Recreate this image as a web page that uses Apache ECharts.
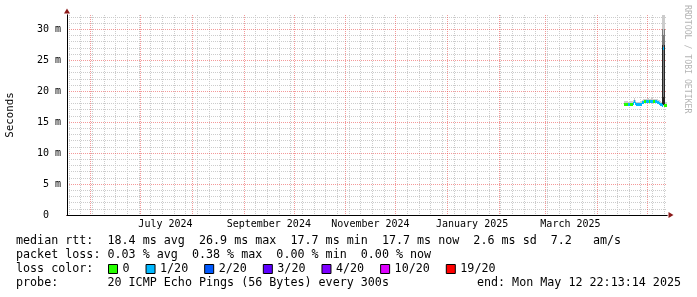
<!DOCTYPE html>
<html><head><meta charset="utf-8">
<script src="https://cdn.jsdelivr.net/npm/echarts@6/dist/echarts.min.js"></script>
<style>html,body{margin:0;padding:0;background:#fff}#c{width:697px;height:297px}</style>
</head><body><div id="c"></div>
<script>
// ---------------- data ----------------
const axisEndUTC = '2025-05-12T22:13:14Z';
const spanDays = 360;
const firstSampleUTC = '2025-04-17T03:01:14Z';
const sampleStepHours = 14.4;

// median RTT per sample (ms)
const medianMs = [17.9,17.9,17.9,17.9,17.8,17.8,17.9,17.9,17.9,18.0,
  18.4,18.0,17.8,17.8,17.8,17.8,17.9,17.9,18.1,18.2,
  18.3,18.3,18.3,18.4,18.4,18.3,18.3,18.4,18.4,18.3,
  18.3,18.3,18.3,18.2,18.1,18.0,17.9,17.8,17.7,26.9,
  17.7,17.7,17.7];
// loss colour class per sample (index into lossLabels)
const lossClass = [0,0,0,0,1,1,0,0,0,1,
  1,1,1,1,1,1,1,1,1,1,
  0,0,1,1,1,0,1,1,1,0,
  0,1,1,1,1,1,1,1,1,1,
  0,0,0];
// smoke: outer band (min..max of pings)
const smokeMinMs = [17.8,17.8,17.8,17.8,17.7,17.7,17.8,17.8,17.8,17.9,
  18.2,17.9,17.7,17.7,17.7,17.7,17.8,17.8,18.0,18.1,
  18.2,18.2,18.2,18.3,18.3,18.2,18.2,18.3,18.3,18.2,
  18.2,18.2,18.2,18.1,18.0,17.9,17.8,17.7,17.6,17.6,
  17.6,17.6,17.6];
const smokeMaxMs = [18.4,18.4,18.4,18.4,18.3,18.3,18.4,18.4,18.4,18.5,
  18.9,18.5,18.3,18.3,18.3,18.3,18.4,18.4,18.6,18.7,
  18.8,18.8,18.8,18.9,18.9,18.8,18.8,18.9,18.9,18.8,
  18.8,18.8,18.8,18.7,18.6,18.5,18.4,18.3,32.3,32.3,
  32.3,18.2,18.2];
// smoke: middle band
const smokeMidLowMs  = [null,null,null,null,null,null,null,null,null,null,
  null,null,null,null,null,null,null,null,null,null,
  null,null,null,null,null,null,null,null,null,null,
  null,null,null,null,null,null,null,null,17.6,17.7,
  17.6,null,null];
const smokeMidHighMs = [null,null,null,null,null,null,null,null,null,null,
  null,null,null,null,null,null,null,null,null,null,
  null,null,null,null,null,null,null,null,null,null,
  null,null,null,null,null,null,null,null,30.0,29.0,
  30.0,null,null];
// smoke: inner band
const smokeInLowMs  = [null,null,null,null,null,null,null,null,null,null,
  null,null,null,null,null,null,null,null,null,null,
  null,null,null,null,null,null,null,null,null,null,
  null,null,null,null,null,null,null,null,17.6,17.7,
  17.6,null,null];
const smokeInHighMs = [null,null,null,null,null,null,null,null,null,null,
  null,null,null,null,null,null,null,null,null,null,
  null,null,null,null,null,null,null,null,null,null,
  null,null,null,null,null,null,null,null,27.5,19.0,
  27.5,null,null];

const lossLabels = ['0','1/20','2/20','3/20','4/20','10/20','19/20'];
const lossColors = ['#26ff00','#00b8ff','#0059ff','#5e00ff','#7e00ff','#dd00ff','#ff0000'];

const xLabelMonths = ['2024-07','2024-09','2024-11','2025-01','2025-03'];
const xLabelTexts = ['July 2024','September 2024','November 2024','January 2025','March 2025'];
const yMajorTicks = [0,5,10,15,20,25,30];
const yTickLabels = ['0  ','5 m','10 m','15 m','20 m','25 m','30 m'];
const yMax = 32.3;

const statLines = [
  'median rtt:  18.4 ms avg  26.9 ms max  17.7 ms min  17.7 ms now  2.6 ms sd  7.2   am/s',
  'packet loss: 0.03 % avg  0.38 % max  0.00 % min  0.00 % now',
  'loss color:',
  'probe:       20 ICMP Echo Pings (56 Bytes) every 300s'
];
const endText = 'end: Mon May 12 22:13:14 2025';
const watermark = 'RRDTOOL / TOBI OETIKER';
const yAxisTitle = 'Seconds';

// ---------------- derived ----------------
const DAY = 86400000;
const tEnd = Date.parse(axisEndUTC);
const tStart = tEnd - spanDays * DAY;
const step = sampleStepHours * 3600000;
const t0 = Date.parse(firstSampleUTC);
const times = medianMs.map((_, i) => t0 + i * step);

// month starts (major grid)
const monthTicks = [];
for (let y = 2024, m = 0; y <= 2025; m++) {
  if (m > 11) { m = 0; y++; if (y > 2025) break; }
  const t = Date.UTC(y, m, 1);
  if (t > tStart && t < tEnd) monthTicks.push(t);
}
// week starts (Sundays, minor grid)
const weekTicks = [];
{
  let d = new Date(tStart); d = Date.UTC(d.getUTCFullYear(), d.getUTCMonth(), d.getUTCDate());
  while (new Date(d).getUTCDay() !== 0 || d <= tStart) d += DAY;
  for (; d < tEnd; d += 7 * DAY) if (new Date(d).getUTCDate() !== 1) weekTicks.push(d);
}
const xLabelPos = xLabelMonths.map(s => { const [y, m] = s.split('-').map(Number); return Date.UTC(y, m - 1, 1) + 15 * DAY; });
const yMinorTicks = [];
for (let v = 1; v < yMax; v++) if (v % 5 !== 0) yMinorTicks.push(v);
const yMajorGrid = yMajorTicks.filter(v => v > 0);

const MONO = '"DejaVu Sans Mono"';
const chart = echarts.init(document.getElementById('c'), null, {renderer: 'canvas'});

function bandSeries(lo, hi, color) {
  const data = [];
  times.forEach((t, i) => { if (lo[i] != null && hi[i] != null) data.push([t, lo[i], hi[i]]); });
  return {
    type: 'custom', xAxisIndex: 0, yAxisIndex: 0, clip: true, silent: true, z: 2,
    data,
    renderItem(params, api) {
      const t = api.value(0);
      const p0 = api.coord([t, api.value(2)]);
      const p1 = api.coord([t + step, api.value(1)]);
      const x0 = Math.round(p0[0]), x1 = Math.max(Math.round(p1[0]), x0 + 1);
      const y0 = Math.round(p0[1]), y1 = Math.max(Math.round(p1[1]), y0 + 1);
      return {type: 'rect', shape: {x: x0, y: y0, width: x1 - x0, height: y1 - y0}, style: {fill: color}};
    }
  };
}

const medianSeries = lossLabels.map((name, k) => {
  const data = [];
  times.forEach((t, i) => { if (lossClass[i] === k) data.push([t, medianMs[i]]); });
  return {
    type: 'custom', name, xAxisIndex: 0, yAxisIndex: 0, clip: true, silent: true, z: 5,
    itemStyle: {color: lossColors[k]},
    data,
    renderItem(params, api) {
      const t = api.value(0);
      const p0 = api.coord([t, api.value(1)]);
      const p1 = api.coord([t + step, api.value(1)]);
      const x0 = Math.round(p0[0]), x1 = Math.max(Math.round(p1[0]), x0 + 1);
      const y0 = Math.round(p0[1] - 1.5);
      return {type: 'rect', shape: {x: x0, y: y0, width: x1 - x0, height: 3}, style: {fill: lossColors[k]}};
    }
  };
});

const gridColor = '#cccccc';
const majorColor = 'rgba(235,70,70,0.55)';
const arrowColor = '#8b1a1a';

const option = {
  animation: false,
  backgroundColor: '#fff',
  grid: {left: 67, right: 30, top: 15, bottom: 82, containLabel: false, outerBoundsMode: 'none'},
  xAxis: [
    {type: 'value', min: tStart, max: tEnd, position: 'bottom', z: 1,
      axisLine: {show: true, onZero: false, lineStyle: {color: arrowColor, width: 1},
        symbol: ['none', 'triangle'], symbolSize: [6, 5], symbolOffset: [0, 4]},
      axisTick: {show: false, customValues: weekTicks}, axisLabel: {show: false},
      splitLine: {show: true, lineStyle: {color: gridColor, width: 1, type: [1, 1]}}},
    {type: 'value', min: tStart, max: tEnd, position: 'bottom', z: 2,
      axisLine: {show: true, onZero: false, lineStyle: {color: '#000', width: 1}},
      axisTick: {show: false, customValues: monthTicks}, axisLabel: {show: false},
      splitLine: {show: true, lineStyle: {color: majorColor, width: 1, type: [1, 1]}}},
    {type: 'value', min: tStart, max: tEnd, position: 'bottom', z: 3,
      axisLine: {show: false}, axisTick: {show: false}, splitLine: {show: false},
      axisLabel: {show: true, customValues: xLabelPos, margin: 4, hideOverlap: false,
        fontFamily: MONO, fontSize: 10, color: '#000',
        formatter: v => { const i = xLabelPos.indexOf(v); return i >= 0 ? xLabelTexts[i] : ''; }}}
  ],
  yAxis: [
    {type: 'value', min: 0, max: yMax, position: 'left', z: 1,
      axisLine: {show: true, onZero: false, lineStyle: {color: arrowColor, width: 1},
        symbol: ['none', 'triangle'], symbolSize: [6, 5], symbolOffset: [0, 4]},
      axisTick: {show: false, customValues: yMinorTicks}, axisLabel: {show: false},
      splitLine: {show: true, lineStyle: {color: gridColor, width: 1, type: [1, 1]}}},
    {type: 'value', min: 0, max: yMax, position: 'left', z: 2,
      name: yAxisTitle, nameLocation: 'middle', nameGap: 51,
      nameTextStyle: {fontFamily: MONO, fontSize: 10.8, color: '#000'},
      axisLine: {show: true, onZero: false, lineStyle: {color: '#000', width: 1}},
      axisTick: {show: false, customValues: yMajorGrid},
      axisLabel: {show: true, customValues: yMajorTicks, margin: 6, fontFamily: MONO, fontSize: 10, color: '#000',
        formatter: v => { const i = yMajorTicks.indexOf(v); return i >= 0 ? yTickLabels[i] : ''; }},
      splitLine: {show: true, lineStyle: {color: majorColor, width: 1, type: [1, 1]}}}
  ],
  legend: {
    data: lossLabels.map(n => ({name: n, icon: 'rect'})),
    left: 108, top: 263, orient: 'horizontal', padding: 0,
    itemWidth: 9, itemHeight: 9, itemGap: 16, selectedMode: false,
    itemStyle: {borderColor: '#000', borderWidth: 1},
    textStyle: {fontFamily: MONO, fontSize: 11.7, color: '#000'}
  },
  graphic: [
    ...statLines.map((s, i) => ({type: 'text', x: 16, y: 241 + 14 * i, silent: true,
      style: {text: s, font: '11.7px ' + MONO, fill: '#000', verticalAlign: 'middle'}})),
    {type: 'text', x: 681, y: 283, silent: true,
      style: {text: endText, font: '11.7px ' + MONO, fill: '#000', align: 'right', verticalAlign: 'middle'}},
    {type: 'text', x: 687, y: 5, rotation: -Math.PI / 2, silent: true,
      style: {text: watermark, font: '8.2px ' + MONO, fill: '#b4b4b4', align: 'left', verticalAlign: 'middle'}}
  ],
  series: [
    bandSeries(smokeMinMs, smokeMaxMs, '#cccccc'),
    bandSeries(smokeMidLowMs, smokeMidHighMs, '#7a7a7a'),
    bandSeries(smokeInLowMs, smokeInHighMs, '#262626'),
    ...medianSeries
  ]
};
chart.setOption(option);
</script>
</body></html>
